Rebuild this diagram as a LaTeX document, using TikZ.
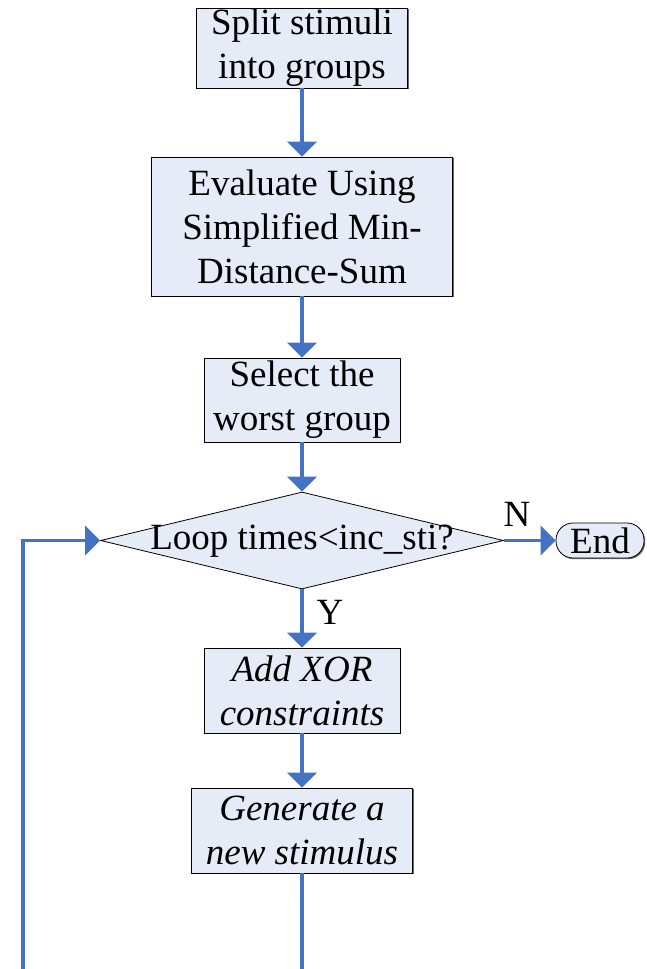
\documentclass[tikz,border=0pt]{standalone}
\usepackage{fontspec}
\setmainfont{Liberation Serif}
\usetikzlibrary{arrows.meta,shapes.geometric,shadows}
\definecolor{boxfill}{RGB}{230,236,247}
\definecolor{flowblue}{RGB}{70,114,196}
\begin{document}
\begin{tikzpicture}[x=1pt,y=1pt,
  box/.style={draw=black, line width=0.8pt, fill=boxfill, align=center, inner sep=0pt,
    font=\fontsize{37}{44}\selectfont,
    drop shadow={shadow xshift=1.2pt, shadow yshift=-1.2pt, fill=black!60, opacity=1}},
  flow/.style={draw=flowblue, line width=3.5pt},
  arr/.style={flow, -{Triangle[width=29pt,length=15pt]}},
  lbl/.style={font=\fontsize{37}{44}\selectfont, inner sep=0pt}]
\useasboundingbox (0,0) rectangle (646,-969);
\node[box, minimum width=211pt, minimum height=80pt] (b1) at (302,-48) {Split stimuli\\into groups};
\node[box, minimum width=301pt, minimum height=139pt] (b2) at (302,-226.5) {Evaluate Using\\Simplified Min-\\Distance-Sum};
\node[box, minimum width=196pt, minimum height=84pt] (b3) at (302,-400) {Select the\\worst group};
\node[diamond, draw=black, line width=0.8pt, fill=boxfill, inner sep=0pt, minimum width=403pt, minimum height=97pt] (dia) at (302,-540.5) {};
\node[lbl] (dtext) at (302,-541) {Loop times<inc\_sti?};
\node[box, rounded corners=17pt, minimum width=88pt, minimum height=35pt] (end) at (600,-540.5) {End};
\node[box, minimum width=196pt, minimum height=85pt] (b4) at (302,-690.5) {\itshape Add XOR\\\itshape constraints};
\node[box, minimum width=221pt, minimum height=85pt] (b5) at (302,-830.5) {\itshape Generate a\\\itshape new stimulus};
\node[lbl] (nlab) at (517,-514) {N};
\node[lbl] (ylab) at (330,-612) {Y};
\coordinate (bot) at (302,-969);
\coordinate (botl) at (23,-969);
\draw[arr] (b1.south) -- (b2.north);
\draw[arr] (b2.south) -- (b3.north);
\draw[arr] (b3.south) -- (dia.north);
\draw[arr] (dia.east) -- (end.west);
\draw[arr] (dia.south) -- (b4.north);
\draw[arr] (b4.south) -- (b5.north);
\draw[flow] (b5.south) -- (bot);
\draw[arr] (botl) |- (dia.west);
\end{tikzpicture}
\end{document}
